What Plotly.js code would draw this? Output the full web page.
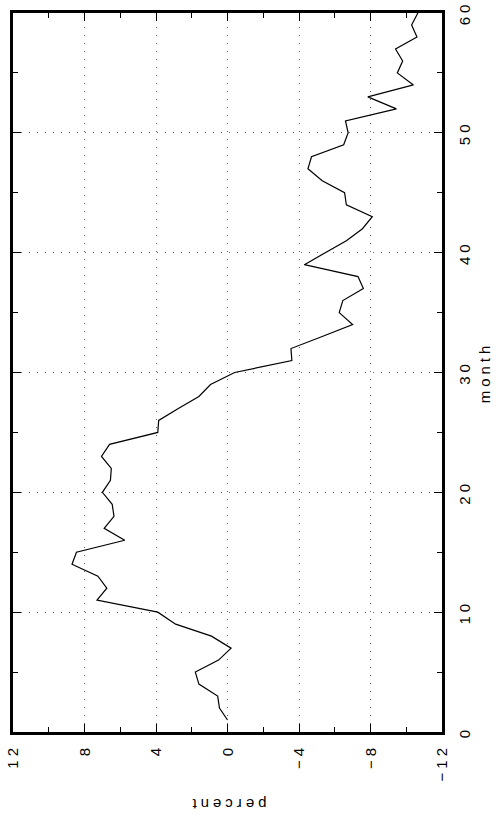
<!DOCTYPE html>
<html>
<head>
<meta charset="utf-8">
<script src="https://cdn.plot.ly/plotly-3.0.1.min.js"></script>
<style>
  html, body { margin: 0; padding: 0; background: #fff; overflow: hidden; }
  /* the landscape figure is turned a quarter turn counter-clockwise to fit the portrait page */
  #chart {
    position: absolute; left: 0; top: 0;
    width: 824px; height: 504px;
    transform-origin: 0 0;
    transform: translate(0, 824px) rotate(-90deg);
  }
  #chart text { letter-spacing: 4px; }
</style>
</head>
<body>
<div id="chart"></div>
<script>
// monthly change, in percent
const months = [1, 2, 3, 4, 5, 6, 7, 8, 9, 10,
  11, 12, 13, 14, 15, 16, 17, 18, 19, 20,
  21, 22, 23, 24, 25, 26, 27, 28, 29, 30,
  31, 32, 33, 34, 35, 36, 37, 38, 39, 40,
  41, 42, 43, 44, 45, 46, 47, 48, 49, 50,
  51, 52, 53, 54, 55, 56, 57, 58, 59, 60];
const percent = [0.0, 0.45, 0.55, 1.6, 1.8, 0.5, -0.2, 0.9, 2.9, 3.9,
  7.3, 6.75, 7.25, 8.7, 8.45, 5.75, 6.9, 6.35, 6.45, 7.0,
  6.55, 6.5, 7.05, 6.6, 3.9, 3.85, 2.75, 1.6, 0.95, -0.4,
  -3.6, -3.55, -5.3, -7.0, -6.25, -6.45, -7.6, -7.3, -4.3, -5.5,
  -6.65, -7.55, -8.1, -6.65, -6.55, -5.3, -4.5, -4.7, -6.5, -6.75,
  -6.6, -9.45, -7.85, -10.4, -9.5, -9.8, -9.4, -10.6, -10.3, -10.65];

const monthTicks = [0, 10, 20, 30, 40, 50, 60];
const percentTicks = [-12, -8, -4, 0, 4, 8, 12];
const percentLabels = ['\u221212', '\u22128', '\u22124', '0', '4', '8', '12'];

const font = { family: 'Liberation Sans, Arial, sans-serif', size: 15, color: '#000' };

const axisCommon = {
  showline: true, linewidth: 3, linecolor: '#000', mirror: 'allticks',
  ticks: 'inside', ticklen: 8, tickwidth: 1, tickcolor: '#000',
  showgrid: true, gridcolor: '#666', gridwidth: 1, griddash: '1px,7px',
  zeroline: false, fixedrange: true, tickfont: font
};

const trace = {
  x: months, y: percent, type: 'scatter', mode: 'lines',
  line: { color: '#000', width: 1.2 }, hoverinfo: 'skip'
};

const layout = {
  width: 824, height: 504,
  margin: { l: 92, r: 13, t: 13, b: 62 },
  paper_bgcolor: '#fff', plot_bgcolor: '#fff',
  showlegend: false,
  xaxis: Object.assign({}, axisCommon, {
    range: [0, 60], tickmode: 'array', tickvals: monthTicks,
    minor: { dtick: 5, tick0: 0, ticks: 'inside', ticklen: 5, tickwidth: 1, tickcolor: '#000', showgrid: false },
    ticklabelstandoff: 7,
    title: { text: 'month', font: font, standoff: 8 }
  }),
  yaxis: Object.assign({}, axisCommon, {
    range: [-12, 12], tickmode: 'array', tickvals: percentTicks, ticktext: percentLabels,
    minor: { dtick: 2, tick0: 0, ticks: 'inside', ticklen: 5, tickwidth: 1, tickcolor: '#000', showgrid: false },
    ticklabelstandoff: 6,
    title: { text: 'percent', font: font, standoff: 26 }
  })
};

Plotly.newPlot('chart', [trace], layout, { displayModeBar: false, staticPlot: true });
</script>
</body>
</html>
